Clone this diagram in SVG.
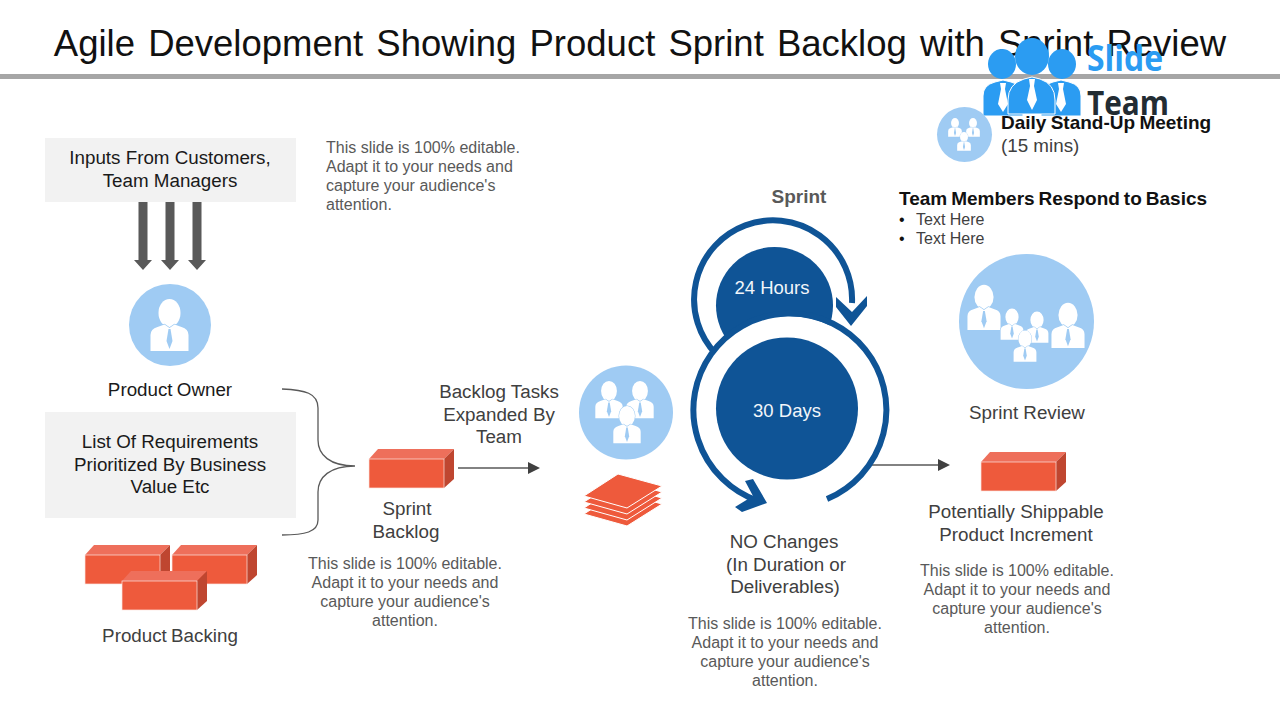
<svg xmlns="http://www.w3.org/2000/svg" xmlns:xlink="http://www.w3.org/1999/xlink" width="1280" height="720" viewBox="0 0 1280 720">
<style>
text{font-family:"Liberation Sans",Arial,sans-serif}
.m{text-anchor:middle}
.k{font-size:18.8px;fill:#1a1a1a}
.g{font-size:18.8px;fill:#404040}
.n{font-size:16px;fill:#595959;text-anchor:middle}
.b{font-size:19px;font-weight:bold;fill:#111}
.t{font-size:16px;fill:#595959}
.lb{fill:#9fcbf3}
.top{fill:#ee6f5b}.fr{fill:#ee5a3c;stroke:#fbe6e0;stroke-width:.7}.sd{fill:#bf4630}
.ring{fill:none;stroke:#0f5496;stroke-width:6}
.ln{fill:none;stroke:#595959;stroke-width:1.3}
.pp{fill:#fff;stroke:#9fcbf3;stroke-width:1.5;paint-order:stroke}
</style>
<defs>
<g id="person">
<ellipse class="pp" cx="0" cy="0" rx="11" ry="14"/>
<path class="pp" d="M-19 38V22Q-19 16-12 14L-5 11.500 0 15 5 11.500 12 14Q19 16 19 22V38Z"/>
<path d="M-1 16H1L3 28 0 36-3 28Z" fill="#9fcbf3"/>
</g>
<g id="brick">
<path class="top" d="M0 0L9-10H85L75 0Z"/>
<path class="sd" d="M75 0L85-10V20L75 29Z"/>
<rect class="fr" x="0" y="0" width="75" height="29"/>
</g>
<g id="lperson">
<path d="M-20 30V10Q-20-1-8-4L0-6 8-4Q20-1 20 10V30Z" fill="#2b9cf2" stroke="#fff" stroke-width="1"/>
<path d="M-3-3H3L2 3 5 18 0 26-5 18-2 3Z" fill="#fff"/>
</g>
<path id="layer" d="M584 496L618 474 662 486 627 508Z" fill="#ee5a3c" stroke="#fff" stroke-width="1"/>
</defs>

<g id="title">
<text x="640" y="56" class="m" style="font-size:36.500px;word-spacing:3px" fill="#111">Agile Development Showing Product Sprint Backlog with Sprint Review</text>
<rect x="0" y="74" width="1280" height="5" fill="#a6a6a6"/>
</g>

<g id="logo">
<ellipse cx="1002" cy="64" rx="14" ry="15" fill="#2b9cf2"/>
<ellipse cx="1062" cy="64" rx="14" ry="15" fill="#2b9cf2"/>
<use xlink:href="#lperson" href="#lperson" transform="translate(1003,86)"/>
<use xlink:href="#lperson" href="#lperson" transform="translate(1061,86)"/>
<ellipse cx="1032" cy="56.500" rx="17" ry="18.500" fill="#2b9cf2"/>
<path d="M1008 114V100Q1008 84 1024 79L1032 77 1040 79Q1055 84 1055 100V114Z" fill="#2b9cf2" stroke="#fff" stroke-width="1"/>
<path d="M1029 79H1035L1034 86 1037 100 1032 110 1027 100 1030 86Z" fill="#fff"/>
<text x="1087" y="71" textLength="76" lengthAdjust="spacingAndGlyphs" style="font-family:'Open Sans',sans-serif;font-size:35px;font-weight:bold" fill="#2b9cf2">Slide</text>
<text x="1087" y="115" textLength="82" lengthAdjust="spacingAndGlyphs" style="font-family:'Open Sans',sans-serif;font-size:34px;font-weight:bold" fill="#222c33">Team</text>
</g>

<g id="connectors">
<path d="M143 202H147.500V260H152L143 270 134 260H138.500V202Z" fill="#595959"/>
<path d="M170 202H174.500V260H179L170 270 161 260H165.500V202Z" fill="#595959"/>
<path d="M197 202H201.500V260H206L197 270 188 260H192.500V202Z" fill="#595959"/>
<path class="ln" d="M282 389C305 390 318 393 318 408V440C318 455 330 466 355 466C330 466 318 477 318 492V520C318 532 305 535 282 535"/>
<path class="ln" d="M458 468H530"/><path d="M528 462L540 468 528 474Z" fill="#404040"/>
<path class="ln" d="M870 465H940"/><path d="M938 459L950 465 938 471Z" fill="#404040"/>
</g>

<g id="node-inputs">
<rect x="45" y="138" width="251" height="64" fill="#f2f2f2"/>
<text x="170" y="164" class="k m">Inputs From Customers,</text>
<text x="170" y="187" class="k m">Team Managers</text>
</g>
<g id="note-top">
<text x="326" y="153" class="t">This slide is 100% editable.</text>
<text x="326" y="172" class="t">Adapt it to your needs and</text>
<text x="326" y="191" class="t">capture your audience's</text>
<text x="326" y="210" class="t">attention.</text>
</g>

<g id="node-owner">
<circle class="lb" cx="170" cy="325" r="41"/>
<use xlink:href="#person" href="#person" transform="translate(169.500,313)"/>
<text x="170" y="396" class="k m" style="word-spacing:-1px">Product Owner</text>
</g>

<g id="node-requirements">
<rect x="45" y="412" width="251" height="106" fill="#f2f2f2"/>
<text x="170" y="448" class="k m">List Of Requirements</text>
<text x="170" y="471" class="k m">Prioritized By Business</text>
<text x="170" y="493" class="k m">Value Etc</text>
</g>

<g id="node-backing">
<use xlink:href="#brick" href="#brick" transform="translate(85,555)"/>
<use xlink:href="#brick" href="#brick" transform="translate(172,555)"/>
<use xlink:href="#brick" href="#brick" transform="translate(122,581)"/>
<text x="170" y="642" class="g m" style="word-spacing:-1px">Product Backing</text>
</g>

<g id="node-sprint-backlog">
<use xlink:href="#brick" href="#brick" transform="translate(369,459)"/>
<text x="407" y="515" class="g m">Sprint</text>
<text x="406" y="538" class="g m">Backlog</text>
<text x="405" y="569" class="n">This slide is 100% editable.</text>
<text x="405" y="588" class="n">Adapt it to your needs and</text>
<text x="405" y="607" class="n">capture your audience's</text>
<text x="405" y="626" class="n">attention.</text>
</g>

<g id="node-expanded">
<text x="499" y="398" class="g m">Backlog Tasks</text>
<text x="499" y="421" class="g m">Expanded By</text>
<text x="499" y="443" class="g m">Team</text>
</g>

<g id="node-team">
<circle class="lb" cx="626" cy="412.500" r="47"/>
<use xlink:href="#person" href="#person" transform="translate(609,391) scale(.72)"/>
<use xlink:href="#person" href="#person" transform="translate(640,391) scale(.72)"/>
<use xlink:href="#person" href="#person" transform="translate(627,416) scale(.72)"/>
<use xlink:href="#layer" href="#layer" y="18"/>
<use xlink:href="#layer" href="#layer" y="12"/>
<use xlink:href="#layer" href="#layer" y="6"/>
<use xlink:href="#layer" href="#layer"/>
</g>

<g id="node-sprint">
<text x="799" y="203" class="m" style="font-size:19px;font-weight:bold;fill:#595959">Sprint</text>
<circle cx="774.500" cy="305.500" r="58.500" fill="#0f5496"/>
<path class="ring" d="M716 354A79 79 0 1 1 852 303"/>
<circle cx="788.500" cy="413" r="97" fill="#fff"/>
<path class="ring" d="M827 499A96.500 96.500 0 1 0 758 501"/>
<path d="M836 297L852 312 867 296V306L851 326 836 307Z" fill="#0f5496"/>
<path d="M745 481L753 479 767 503 742 512 735 507 753 496Z" fill="#0f5496"/>
<circle cx="787" cy="408.500" r="71" fill="#0f5496"/>
<text x="772" y="294" class="m" style="font-size:18.500px;fill:#f2f6fa">24 Hours</text>
<text x="787" y="417" class="m" style="font-size:18.500px;fill:#f2f6fa">30 Days</text>
</g>

<g id="node-nochanges">
<text x="784" y="548" class="g m">NO Changes</text>
<text x="786" y="571" class="g m">(In Duration or</text>
<text x="785" y="593" class="g m">Deliverables)</text>
<text x="785" y="629" class="n">This slide is 100% editable.</text>
<text x="785" y="648" class="n">Adapt it to your needs and</text>
<text x="785" y="667" class="n">capture your audience's</text>
<text x="785" y="686" class="n">attention.</text>
</g>

<g id="node-standup">
<circle class="lb" cx="964.500" cy="134.500" r="27.500"/>
<use xlink:href="#person" href="#person" transform="translate(955,123) scale(.36)"/>
<use xlink:href="#person" href="#person" transform="translate(973,123) scale(.36)"/>
<use xlink:href="#person" href="#person" transform="translate(964,137) scale(.36)"/>
<text x="1001" y="129" class="b" style="word-spacing:-1px">Daily Stand-Up Meeting</text>
<text x="1001" y="152" class="g">(15 mins)</text>
</g>

<g id="node-respond">
<text x="899" y="205" class="b" style="word-spacing:-1.300px">Team Members Respond to Basics</text>
<text x="899" y="225" style="font-size:16px;fill:#111">•</text>
<text x="916" y="225" style="font-size:16px;fill:#404040">Text Here</text>
<text x="899" y="244" style="font-size:16px;fill:#111">•</text>
<text x="916" y="244" style="font-size:16px;fill:#404040">Text Here</text>
</g>

<g id="node-review">
<circle class="lb" cx="1026.500" cy="321.500" r="67.500"/>
<use xlink:href="#person" href="#person" transform="translate(984,297) scale(.87)"/>
<use xlink:href="#person" href="#person" transform="translate(1068,315) scale(.87)"/>
<use xlink:href="#person" href="#person" transform="translate(1012,317) scale(.6)"/>
<use xlink:href="#person" href="#person" transform="translate(1037,320) scale(.6)"/>
<use xlink:href="#person" href="#person" transform="translate(1025,339) scale(.6)"/>
<text x="1027" y="419" class="g m">Sprint Review</text>
</g>

<g id="node-increment">
<use xlink:href="#brick" href="#brick" transform="translate(981,462)"/>
<text x="1016" y="518" class="g m">Potentially Shippable</text>
<text x="1016" y="541" class="g m">Product Increment</text>
<text x="1017" y="576" class="n">This slide is 100% editable.</text>
<text x="1017" y="595" class="n">Adapt it to your needs and</text>
<text x="1017" y="614" class="n">capture your audience's</text>
<text x="1017" y="633" class="n">attention.</text>
</g>
</svg>
